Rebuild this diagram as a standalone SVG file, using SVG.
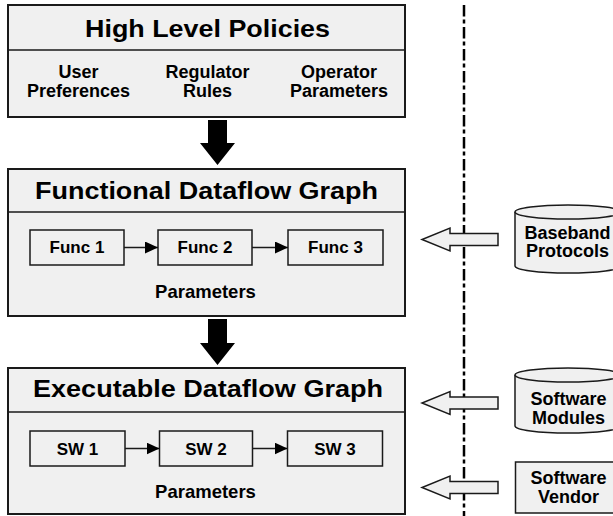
<svg xmlns="http://www.w3.org/2000/svg" width="613" height="516" viewBox="0 0 613 516">
<style>
  .box{fill:#f0f0f0;stroke:#1a1a1a;stroke-width:2}
  .inner{fill:#f0f0f0;stroke:#1a1a1a;stroke-width:1.5}
  .div{stroke:#1a1a1a;stroke-width:1.5}
  text{font-family:"Liberation Sans",Arial,sans-serif;font-weight:bold;fill:#000;text-anchor:middle}
  .title{font-size:23.5px}
  .sub{font-size:18px}
  .lbl{font-size:17px}
  .par{font-size:18.5px}
  .side{font-size:18px}
  .link{stroke:#1a1a1a;stroke-width:1.5;fill:none}
  .big{fill:#000}
  .hollow{fill:#f0f0f0;stroke:#1a1a1a;stroke-width:1.5}
</style>
<defs>
  <marker id="ah" markerWidth="13" markerHeight="12" refX="13" refY="6" orient="auto" markerUnits="userSpaceOnUse">
    <path d="M0,0 L13,6 L0,12 Z" fill="#000"/>
  </marker>
</defs>

<line x1="464" y1="5" x2="464" y2="516" stroke="#000" stroke-width="2.5" stroke-dasharray="11.5,3,4,3.5"/>

<g id="high-level-policies">
  <rect class="box" x="8" y="5" width="397" height="112"/>
  <line class="div" x1="8" y1="50" x2="405" y2="50"/>
  <text class="title" x="207.5" y="37.3" textLength="245" lengthAdjust="spacingAndGlyphs">High Level Policies</text>
  <text class="sub" x="78.5" y="77.7">User</text>
  <text class="sub" x="78.5" y="97.3">Preferences</text>
  <text class="sub" x="207.5" y="77.7">Regulator</text>
  <text class="sub" x="207.5" y="97.3">Rules</text>
  <text class="sub" x="339" y="77.7">Operator</text>
  <text class="sub" x="339" y="97.3">Parameters</text>
</g>

<g id="functional-dataflow-graph">
  <rect class="box" x="8" y="169" width="397" height="147"/>
  <line class="div" x1="8" y1="212" x2="405" y2="212"/>
  <text class="title" x="206.5" y="199.3" textLength="343" lengthAdjust="spacingAndGlyphs">Functional Dataflow Graph</text>
  <g id="func1"><rect class="inner" x="30" y="230" width="94" height="35"/><text class="lbl" x="77" y="253.3">Func 1</text></g>
  <g id="func2"><rect class="inner" x="158" y="230" width="94" height="35"/><text class="lbl" x="205" y="253.3">Func 2</text></g>
  <g id="func3"><rect class="inner" x="288" y="230" width="95" height="35"/><text class="lbl" x="335.5" y="253.3">Func 3</text></g>
  <text class="par" x="205.5" y="298.3">Parameters</text>
</g>

<g id="executable-dataflow-graph">
  <rect class="box" x="8" y="368" width="397" height="146"/>
  <line class="div" x1="8" y1="412" x2="405" y2="412"/>
  <text class="title" x="208" y="397.3" textLength="350" lengthAdjust="spacingAndGlyphs">Executable Dataflow Graph</text>
  <g id="sw1"><rect class="inner" x="30" y="431" width="95" height="35"/><text class="lbl" x="77.5" y="455">SW 1</text></g>
  <g id="sw2"><rect class="inner" x="159.5" y="431" width="93" height="35"/><text class="lbl" x="206" y="455">SW 2</text></g>
  <g id="sw3"><rect class="inner" x="287.5" y="431" width="95" height="35"/><text class="lbl" x="335" y="455">SW 3</text></g>
  <text class="par" x="205.5" y="497.7">Parameters</text>
</g>

<g id="baseband-protocols">
  <path class="hollow" d="M515,212 L515,266 A53,7 0 0 0 621,266 L621,212"/>
  <ellipse class="hollow" cx="568" cy="212" rx="53" ry="7"/>
  <text class="side" x="567.5" y="238.5">Baseband</text>
  <text class="side" x="567.5" y="257">Protocols</text>
</g>

<g id="software-modules">
  <path class="hollow" d="M515,375 L515,426 A53,7 0 0 0 621,426 L621,375"/>
  <ellipse class="hollow" cx="568" cy="375" rx="53" ry="7"/>
  <text class="side" x="568.5" y="405">Software</text>
  <text class="side" x="568.5" y="424">Modules</text>
</g>

<g id="software-vendor">
  <rect class="hollow" x="515.5" y="462" width="106" height="51"/>
  <text class="side" x="568.5" y="484">Software</text>
  <text class="side" x="568.5" y="502.7">Vendor</text>
</g>

<g id="connectors">
  <path class="big" d="M208,120 L227,120 L227,143 L235,143 L217.5,165 L200,143 L208,143 Z"/>
  <path class="big" d="M208,319 L227,319 L227,343 L235,343 L217.5,365 L200,343 L208,343 Z"/>
  <line class="link" x1="124" y1="247.5" x2="158" y2="247.5" marker-end="url(#ah)"/>
  <line class="link" x1="252" y1="247.5" x2="288" y2="247.5" marker-end="url(#ah)"/>
  <line class="link" x1="125" y1="448.5" x2="159.5" y2="448.5" marker-end="url(#ah)"/>
  <line class="link" x1="252.5" y1="448.5" x2="287.5" y2="448.5" marker-end="url(#ah)"/>
  <path class="hollow" d="M498,233.5 L450,233.5 L450,228 L422,239.5 L450,251 L450,245.5 L498,245.5 Z"/>
  <path class="hollow" d="M498,397 L450,397 L450,391.5 L422,403 L450,414.5 L450,409 L498,409 Z"/>
  <path class="hollow" d="M498,481.5 L450,481.5 L450,476 L422,487.5 L450,499 L450,493.5 L498,493.5 Z"/>
</g>
</svg>
